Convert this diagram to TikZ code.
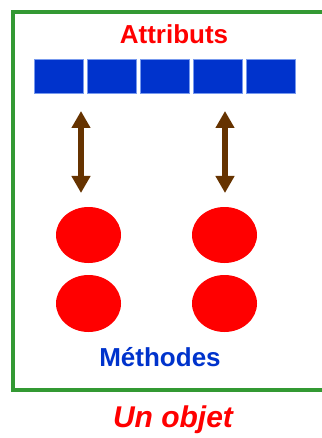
\documentclass[tikz,border=0pt]{standalone}
\usepackage{fontspec}
\setmainfont{Liberation Sans}
\usetikzlibrary{arrows.meta}
\definecolor{framegreen}{HTML}{339933}
\definecolor{attrblue}{HTML}{0033CC}
\definecolor{attredge}{HTML}{7799EE}
\definecolor{linkbrown}{HTML}{663300}
\tikzset{
  attrbox/.style={fill=attrblue, draw=attredge, line width=0.8pt, minimum width=49pt, minimum height=34pt, inner sep=0pt, anchor=north west},
  link/.style={draw=linkbrown, line width=6pt, {Triangle[width=18pt,length=17pt]}-{Triangle[width=18pt,length=17pt]}},
  lbl/.style={font=\bfseries\fontsize{26}{30}\selectfont, inner sep=0pt}
}
\begin{document}
\begin{tikzpicture}[x=1pt,y=-1pt]
\useasboundingbox (0,0) rectangle (321,438);
\draw[framegreen, line width=4pt] (13,12) rectangle (340,390);
\node[lbl, text=red] (attr) at (174,34) {Attributs};
\foreach \i/\x in {1/34,2/86.7,3/140,4/192.7,5/245.7}{
  \node[attrbox] (b\i) at (\x,59.3) {};
}
\coordinate (a1t) at (81,111);
\coordinate (a1b) at (81,193);
\coordinate (a2t) at (225,111);
\coordinate (a2b) at (225,193);
\draw[link] (a1t) -- (a1b);
\draw[link] (a2t) -- (a2b);
\fill[red] (88.5,235) ellipse [x radius=32.5, y radius=28] node (m1) {};
\fill[red] (88.5,303.5) ellipse [x radius=32.5, y radius=28.5] node (m2) {};
\fill[red] (224.5,235) ellipse [x radius=32.5, y radius=28] node (m3) {};
\fill[red] (224.5,303.5) ellipse [x radius=32.5, y radius=28.5] node (m4) {};
\node[lbl, text=attrblue] (meth) at (160,357) {Méthodes};
\node[font=\bfseries\itshape\fontsize{30}{34}\selectfont, text=red, inner sep=0pt] (obj) at (173,420) {Un objet};
\end{tikzpicture}
\end{document}
